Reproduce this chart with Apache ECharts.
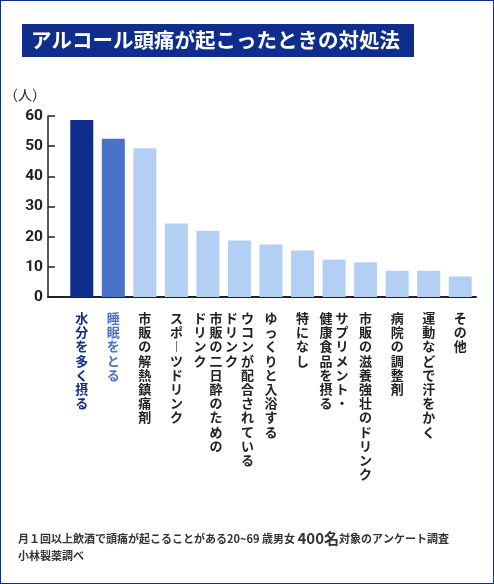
<!DOCTYPE html>
<html>
<head>
<meta charset="utf-8">
<script src="https://cdn.jsdelivr.net/npm/echarts@6/dist/echarts.min.js"></script>
<style>
  html, body { margin: 0; padding: 0; background: #fff; }
  #wrap { position: relative; width: 494px; height: 584px; }
  #main { width: 494px; height: 584px; }
  #frame { position: absolute; left: 0; top: 0; right: 0; bottom: 0; border: 1.5px solid #0f2d8c; pointer-events: none; }
</style>
</head>
<body>
<div id="wrap">
  <div id="main"></div>
  <div id="frame"></div>
</div>
<script>
// 対処法（'/' で縦書きの改列）
var categories = [
    '水分を多く摂る',
    '睡眠をとる',
    '市販の解熱鎮痛剤',
    'スポーツドリンク',
    '市販の二日酔のための/ドリンク',
    'ウコンが配合されている/ドリンク',
    'ゆっくりと入浴する',
    '特になし',
    'サプリメント・/健康食品を摂る',
    '市販の滋養強壮のドリンク',
    '病院の調整剤',
    '運動などで汗をかく',
    'その他'
];
// 人数
var values = [58.7, 52.5, 49.3, 24.4, 22.0, 18.7, 17.4, 15.4, 12.4, 11.5, 8.7, 8.7, 6.8];
var yTicks = [0, 10, 20, 30, 40, 50, 60];

var title = 'アルコール頭痛が起こったときの対処法';
var note1 = '月１回以上飲酒で頭痛が起こることがある20~69 歳男女 ';
var note2 = '400名';
var note3 = '対象のアンケート調査';
var note4 = '小林製薬調べ';

var NAVY = '#0f2d8c', BLUE = '#4a72c9', LIGHT = '#b4cff4';
var JP = '"Noto Sans CJK JP", "Noto Sans", sans-serif';

// 縦書き用：長音を縦棒に
function vert(ch) {
    if (ch === 'ー') return '︱';
    return ch;
}

var myChart = echarts.init(document.getElementById('main'));
var option = {
    animation: false,
    title: [
        {
            text: title,
            left: 22,
            top: 24,
            backgroundColor: NAVY,
            padding: [5, 14, 6, 9],
            textStyle: {
                color: '#fff',
                fontSize: 20.5,
                fontWeight: 'bold',
                lineHeight: 22,
                fontFamily: JP
            }
        },
        {
            text: '{a|' + note1 + '}{b|' + note2 + '}{a|' + note3 + '}\n{a|' + note4 + '}',
            left: 18,
            top: 530,
            padding: 0,
            textStyle: {
                rich: {
                    a: { fontSize: 11, color: '#333', fontFamily: JP, lineHeight: 17 },
                    b: { fontSize: 15, color: '#333', fontWeight: 'bold', fontFamily: JP, lineHeight: 17 }
                }
            }
        }
    ],
    grid: [
        { left: 66, right: 18, top: 116, bottom: 287 },
        { left: 48, right: 18, top: 116, bottom: 287 }
    ],
    xAxis: [
        {
            type: 'category',
            gridIndex: 0,
            data: categories,
            axisLine: { show: false },
            axisTick: { show: false },
            axisLabel: {
                interval: 0,
                margin: 14,
                color: function (v, i) {
                    return i === 0 ? NAVY : (i === 1 ? BLUE : '#222');
                },
                formatter: function (v) {
                    var cols = v.split('/').reverse();
                    var n = 0;
                    cols.forEach(function (c) { n = Math.max(n, c.length); });
                    var lines = [];
                    for (var i = 0; i < n; i++) {
                        var line = '';
                        cols.forEach(function (c) {
                            line += '{c|' + (i < c.length ? vert(c[i]) : '　') + '}';
                        });
                        lines.push(line);
                    }
                    return lines.join('\n');
                },
                rich: {
                    c: {
                        width: 16,
                        align: 'center',
                        fontSize: 13,
                        lineHeight: 14.2,
                        fontWeight: 'bold',
                        fontFamily: JP
                    }
                }
            }
        },
        {
            type: 'value',
            gridIndex: 1,
            min: 0,
            max: 1,
            axisLine: { show: true, lineStyle: { color: '#222', width: 2 } },
            axisTick: { show: false },
            axisLabel: { show: false },
            splitLine: { show: false }
        }
    ],
    yAxis: [
        {
            type: 'value',
            gridIndex: 0,
            min: 0,
            max: 60,
            interval: 10,
            show: false
        },
        {
            type: 'value',
            gridIndex: 1,
            min: yTicks[0],
            max: yTicks[yTicks.length - 1],
            interval: 10,
            name: '（人）',
            nameLocation: 'end',
            nameGap: 14,
            nameTextStyle: {
                color: '#222',
                fontSize: 14,
                fontFamily: JP,
                align: 'right',
                padding: [0, 2, 0, 0]
            },
            axisLine: { show: true, lineStyle: { color: '#222', width: 1.5 } },
            axisTick: { show: true, inside: true, length: 7, lineStyle: { color: '#222', width: 1.5 } },
            splitLine: { show: false },
            axisLabel: {
                margin: 5,
                color: '#222',
                fontSize: 15.5,
                fontWeight: 'bold',
                fontFamily: 'Roboto, sans-serif'
            }
        }
    ],
    series: [
        {
            name: '対処法',
            type: 'bar',
            xAxisIndex: 0,
            yAxisIndex: 0,
            barWidth: 23,
            data: values,
            itemStyle: {
                color: function (p) {
                    return p.dataIndex === 0 ? NAVY : (p.dataIndex === 1 ? BLUE : LIGHT);
                }
            }
        }
    ]
};
myChart.setOption(option);
</script>
</body>
</html>
